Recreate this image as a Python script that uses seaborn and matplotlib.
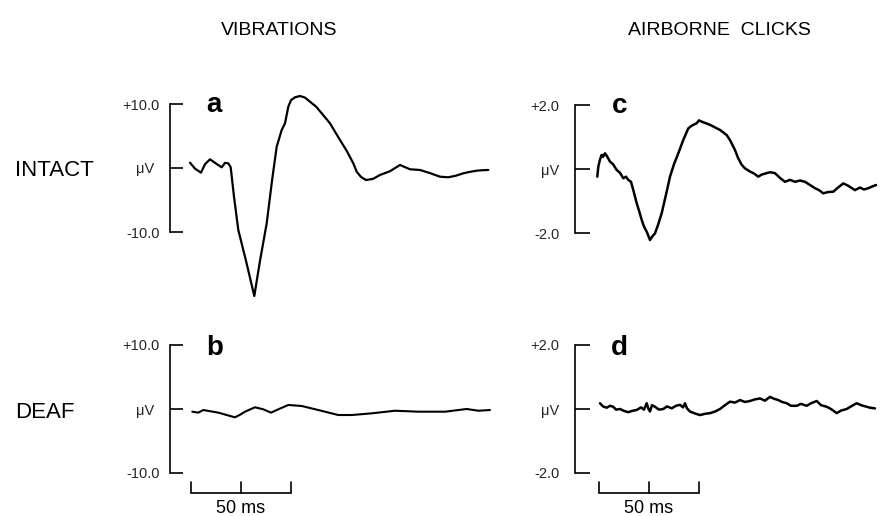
import matplotlib
matplotlib.use("Agg")
import matplotlib.pyplot as plt
import matplotlib.transforms as mtransforms
from matplotlib import font_manager
import seaborn as sns
import pandas as pd

# ---------------- data (time in ms, potential in microvolts) ----------------
t_a = [0, 5, 11, 15, 20, 26, 31.7, 35, 38.3, 40.7, 44, 48.3, 56, 64.3, 70, 76.7,
       82, 86.7, 91.7, 95, 98.3, 101, 105, 110, 115, 120, 126, 131.7, 140, 145,
       150, 157, 163.3, 166.7, 171, 176, 183, 190, 200, 210, 220, 230, 240, 250,
       258.3, 266, 273.3, 280, 286.7, 292, 298.3]
v_a = [0.83, -0.1, -0.73, 0.6, 1.36, 0.7, 0.11, 0.8, 0.73, 0.11, -4.5, -9.69,
       -14.5, -20.0, -14.5, -8.64, -2.0, 3.33, 5.94, 6.98, 9.58, 10.6, 11.05, 11.25,
       11.0, 10.36, 9.6, 8.55, 6.98, 5.67, 4.38, 2.6, 0.73, -0.58, -1.4, -1.88,
       -1.7, -1.09, -0.5, 0.47, -0.20, -0.31, -0.8, -1.36, -1.45, -1.2, -0.83,
       -0.6, -0.42, -0.35, -0.31]

t_b = [2.3, 8.3, 13.3, 28.3, 38, 45, 50, 55, 65, 73.3, 81, 88.3, 98.3, 111.7, 128.3,
       148.3, 161.7, 181.7, 205, 228.3, 255, 276.7, 288.3, 300]
v_b = [-0.42, -0.57, -0.16, -0.57, -1.0, -1.30, -0.9, -0.42, 0.27, -0.05, -0.57,
       -0.05, 0.63, 0.47, -0.16, -0.94, -0.94, -0.68, -0.27, -0.42, -0.42, 0.0,
       -0.27, -0.16]

t_c = [-0.7, 0.3, 2, 3.7, 5, 7, 9, 12, 15, 18.7, 22, 25.3, 28, 30.3, 33, 35.3,
       38.7, 41, 43.7, 46, 48.7, 50.5, 52, 54, 57, 60, 63.7, 68, 72, 76, 80.3,
       85.3, 90.3, 94, 98.7, 101, 103.7, 107, 112, 117, 122, 125, 128.7, 132,
       135.3, 137, 140, 143.7, 147, 152, 156, 160.3, 164, 168.7, 172, 177, 182,
       187, 192, 197, 202, 207, 212, 217, 221, 225.3, 230, 235.3, 240, 245.3, 250,
       257, 262, 266, 270.3, 274, 278]
v_c = [-0.24, 0.07, 0.30, 0.44, 0.38, 0.49, 0.40, 0.23, 0.15, -0.03, -0.12, -0.29,
       -0.24, -0.34, -0.40, -0.66, -1.07, -1.30, -1.59, -1.80, -1.96, -2.10, -2.22,
       -2.12, -2.01, -1.75, -1.38, -0.80, -0.24, 0.15, 0.49, 0.91, 1.27, 1.36,
       1.43, 1.52, 1.48, 1.44, 1.38, 1.30, 1.22, 1.15, 1.06, 0.90, 0.70, 0.59,
       0.35, 0.13, 0.02, -0.08, -0.14, -0.24, -0.17, -0.13, -0.10, -0.13, -0.28,
       -0.40, -0.34, -0.40, -0.36, -0.40, -0.50, -0.60, -0.66, -0.76, -0.72, -0.71,
       -0.58, -0.45, -0.52, -0.66, -0.58, -0.64, -0.60, -0.55, -0.50]

t_d = [2, 5, 8.7, 12, 15.3, 18, 22, 26, 30.3, 34, 38.7, 43, 46, 48.7, 50.5, 52, 54,
       57, 61, 65.3, 69, 73.7, 78, 82, 85, 87, 89, 92, 97, 102, 107, 112, 117, 122,
       127, 132, 137, 142, 147, 152, 157, 162, 167, 172, 176, 180.3, 184, 188.7,
       193, 198.7, 203, 208.7, 213, 218.7, 223, 228.7, 233, 238.7, 243, 248.7, 253,
       258.7, 263, 268.7, 272, 277]
v_d = [0.18, 0.08, 0.04, 0.10, 0.07, -0.02, 0.0, -0.06, -0.10, -0.06, -0.03, 0.05,
       -0.02, 0.18, 0.0, -0.08, 0.12, 0.07, -0.02, 0.0, 0.08, 0.02, 0.10, 0.13,
       0.05, 0.18, 0.02, -0.08, -0.14, -0.19, -0.15, -0.13, -0.08, 0.0, 0.12, 0.23,
       0.20, 0.28, 0.22, 0.25, 0.30, 0.33, 0.26, 0.38, 0.32, 0.28, 0.22, 0.18,
       0.10, 0.10, 0.16, 0.10, 0.18, 0.25, 0.12, 0.07, 0.0, -0.13, -0.05, 0.0, 0.08,
       0.18, 0.12, 0.07, 0.04, 0.02]

col_titles = ["VIBRATIONS", "AIRBORNE  CLICKS"]
row_titles = ["INTACT", "DEAF"]
panel_letters = ["a", "b", "c", "d"]
ticks_vib = [-10.0, 0.0, 10.0]
ticklabels_vib = ["-10.0", "μV", "+10.0"]
ticks_clk = [-2.0, 0.0, 2.0]
ticklabels_clk = ["-2.0", "μV", "+2.0"]
scale_bar_ms = [0, 50, 100]
scale_label = "50 ms"

# ---------------- style ----------------
sns.set_theme(style="white")
plt.rcParams["font.family"] = ["Liberation Sans", "DejaVu Sans"]

installed = {f.name for f in font_manager.fontManager.ttflist}
title_family = ["Liberation Sans Narrow"] if "Liberation Sans Narrow" in installed \
    else ["Liberation Sans"]
title_size = 16.5 if "Liberation Sans Narrow" in installed else 14

W, H = 881, 516
fig = plt.figure(figsize=(W / 100, H / 100), dpi=100)
fig.patch.set_facecolor("white")


def px_axes(x0, y0, x1, y1):
    return fig.add_axes([x0 / W, 1 - y1 / H, (x1 - x0) / W, (y1 - y0) / H])


def style_axes(ax, ticks, labels, bound, ticklen, pad):
    for s in ["top", "right", "bottom"]:
        ax.spines[s].set_visible(False)
    ax.spines["left"].set_color("black")
    ax.spines["left"].set_linewidth(1.2)
    ax.spines["left"].set_bounds(-bound, bound)
    ax.set_xticks([])
    ax.set_yticks(ticks)
    ax.set_yticklabels(labels)
    ax.tick_params(axis="y", direction="in", length=ticklen, width=1.2,
                   color="black", labelsize=10.5, pad=pad, left=True)
    ax.set_xlabel("")
    ax.set_ylabel("")
    ax.patch.set_alpha(0)
    ax.grid(False)


# panel geometry: (t0 pixel, baseline pixel, px per uV)
specs = {
    "a": dict(box=(170, 90, 495, 305), t0=190, base=168, ppu=6.4),
    "b": dict(box=(170, 335, 495, 516), t0=190, base=409, ppu=6.4),
    "c": dict(box=(575, 90, 881, 305), t0=598, base=169, ppu=32.0),
    "d": dict(box=(575, 335, 881, 516), t0=598, base=409, ppu=32.0),
}
series = {"a": (t_a, v_a), "b": (t_b, v_b), "c": (t_c, v_c), "d": (t_d, v_d)}
widths = {"a": 1.6, "b": 1.5, "c": 1.8, "d": 1.8}

axes = {}
for key, sp in specs.items():
    x0, y0, x1, y1 = sp["box"]
    ax = px_axes(x0, y0, x1, y1)
    ax.set_xlim(x0 - sp["t0"], x1 - sp["t0"])
    ax.set_ylim((sp["base"] - y1) / sp["ppu"], (sp["base"] - y0) / sp["ppu"])
    t, v = series[key]
    df = pd.DataFrame({"t": t, "v": v})
    sns.lineplot(data=df, x="t", y="v", ax=ax, color="black", linewidth=widths[key],
                 estimator=None, sort=False)
    if key in "ab":
        style_axes(ax, ticks_vib, ticklabels_vib, 10, 9.4, 7.5)
    else:
        style_axes(ax, ticks_clk, ticklabels_clk, 2, 10.8, 11)
    lx = {"a": 214, "b": 215, "c": 620, "d": 619}[key]
    ly = {"a": 112, "b": 355, "c": 113, "d": 355}[key]
    ax.text(lx - sp["t0"], (sp["base"] - ly) / sp["ppu"], key, ha="center",
            va="baseline", fontsize=20, fontweight="bold", color="black")
    axes[key] = ax

# shift the uV label slightly left on vibration panels
for key in "ab":
    lbl = axes[key].get_yticklabels()[1]
    lbl.set_transform(lbl.get_transform() +
                      mtransforms.ScaledTranslation(-5 / 100, 0, fig.dpi_scale_trans))

# scale bars in bottom panels
for key in "bd":
    sp = specs[key]
    ax = axes[key]
    ybot = (sp["base"] - 493) / sp["ppu"]
    ytop = (sp["base"] - 482) / sp["ppu"]
    off = 1
    xs = [scale_bar_ms[0] + off, scale_bar_ms[0] + off,
          scale_bar_ms[-1] + off, scale_bar_ms[-1] + off]
    ax.plot(xs, [ytop, ybot, ybot, ytop], color="black", lw=1.2,
            solid_joinstyle="miter", clip_on=False)
    ax.plot([scale_bar_ms[1] + off] * 2, [ybot, ytop], color="black", lw=1.2,
            clip_on=False)
    ax.text(scale_bar_ms[1] + off, (sp["base"] - 513) / sp["ppu"], scale_label,
            ha="center", va="baseline", fontsize=13, color="black", clip_on=False)

# column and row titles
fig.text(279 / W, 1 - 35 / H, col_titles[0], ha="center", va="baseline",
         fontsize=title_size, color="black", family=title_family)
fig.text(719 / W, 1 - 35 / H, col_titles[1], ha="center", va="baseline",
         fontsize=title_size, color="black", family=title_family)
fig.text(15 / W, 1 - 176 / H, row_titles[0], ha="left", va="baseline",
         fontsize=16, color="black")
fig.text(15 / W, 1 - 418 / H, row_titles[1], ha="left", va="baseline",
         fontsize=16, color="black")

fig.savefig("out.png", dpi=100, facecolor="white")
